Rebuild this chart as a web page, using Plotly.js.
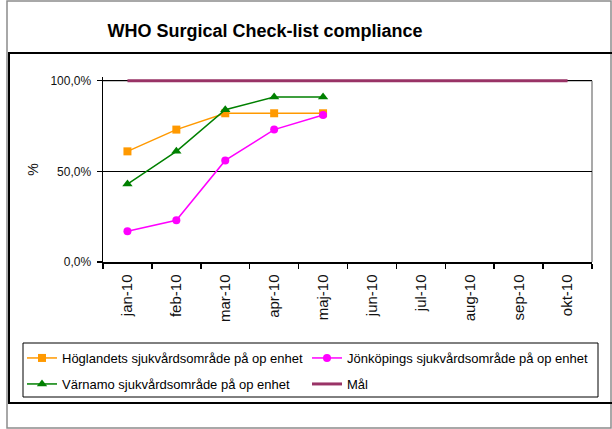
<!DOCTYPE html>
<html>
<head>
<meta charset="utf-8">
<script src="https://cdn.plot.ly/plotly-3.0.1.min.js"></script>
<style>html,body{margin:0;padding:0;background:#fff;}#chart{width:612px;height:429px;}</style>
</head>
<body>
<div id="chart"></div>
<script>
// ---- data ----
var months = ['jan-10','feb-10','mar-10','apr-10','maj-10','jun-10','jul-10','aug-10','sep-10','okt-10'];
var dataMonths = ['jan-10','feb-10','mar-10','apr-10','maj-10'];
var hoglandets = [0.61, 0.73, 0.82, 0.82, 0.82];
var jonkopings = [0.17, 0.23, 0.56, 0.73, 0.81];
var varnamo = [0.43, 0.61, 0.84, 0.91, 0.91];
var mal = [1, 1, 1, 1, 1, 1, 1, 1, 1, 1];
var yTicks = [0, 0.5, 1];
var seriesNames = ['Höglandets sjukvårdsområde på op enhet', 'Jönköpings sjukvårdsområde på op enhet', 'Värnamo sjukvårdsområde på op enhet', 'Mål'];

// ---- layout geometry (pixels) ----
var W = 612, H = 429;
var L = 103, R = 592, T = 77, B = 262;
function px(x){ return (x - L) / (R - L); }
function py(y){ return (B - y) / (B - T); }
var font = 'Arial, "Liberation Sans", sans-serif';

var traces = [
  {x: dataMonths, y: hoglandets, name: seriesNames[0], mode: 'lines+markers',
   line: {color: '#FF9900', width: 1.5}, marker: {symbol: 'square', size: 8, color: '#FF9900'}, legend: 'legend'},
  {x: dataMonths, y: jonkopings, name: seriesNames[1], mode: 'lines+markers',
   line: {color: '#FF00FF', width: 1.5}, marker: {symbol: 'circle', size: 8, color: '#FF00FF'}, legend: 'legend2'},
  {x: dataMonths, y: varnamo, name: seriesNames[2], mode: 'lines+markers',
   line: {color: '#008000', width: 1.5}, marker: {symbol: 'triangle-up', size: 9, color: '#008000'}, legend: 'legend3'},
  {x: months, y: mal, name: seriesNames[3], mode: 'lines',
   line: {color: '#993366', width: 3}, legend: 'legend4'}
];

var shapes = [
  {type: 'rect', xref: 'paper', yref: 'paper', x0: px(7), x1: px(611), y0: py(1), y1: py(428),
   line: {color: '#8c8c8c', width: 1.5}, layer: 'below'},
  {type: 'rect', xref: 'paper', yref: 'paper', x0: px(9), x1: px(614), y0: py(53), y1: py(403),
   line: {color: '#000', width: 2}, layer: 'below'},
  {type: 'rect', xref: 'paper', yref: 'paper', x0: px(23), x1: px(598), y0: py(343), y1: py(397),
   line: {color: '#000', width: 1}, layer: 'below'},
  {type: 'line', xref: 'paper', yref: 'y', x0: 0, x1: 1, y0: 1, y1: 1,
   line: {color: '#8c8c8c', width: 1.5}, layer: 'between'},
  {type: 'line', xref: 'paper', yref: 'y', x0: 1, x1: 1, y0: 0, y1: 1,
   line: {color: '#8c8c8c', width: 1.5}, layer: 'between'}
];

function legendAt(xp, yp){
  return {orientation: 'h', x: px(xp), y: py(yp), xanchor: 'left', yanchor: 'top',
          font: {size: 13, family: font, color: '#000'}, bgcolor: 'rgba(0,0,0,0)', borderwidth: 0, itemwidth: 30};
}

var layout = {
  width: W, height: H,
  margin: {l: L, r: W - R, t: T, b: H - B, pad: 0},
  paper_bgcolor: '#fff', plot_bgcolor: '#fff',
  separators: ',.',
  font: {family: font, color: '#000', size: 12},
  title: {text: '<b>WHO Surgical Check-list compliance</b>', font: {family: font, size: 18, color: '#000'},
          xref: 'container', yref: 'container', x: 265 / W, y: 1 - 31 / H, xanchor: 'center', yanchor: 'middle'},
  xaxis: {type: 'category', categoryorder: 'array', categoryarray: months, range: [-0.5, 9.5],
          showline: true, linecolor: '#000', linewidth: 1.5, showgrid: false, zeroline: false,
          ticks: 'outside', tickson: 'boundaries', ticklen: 5, tickcolor: '#000', tickwidth: 1.5,
          tickangle: -90, tickfont: {size: 15, family: font, color: '#111'}, ticklabelstandoff: 5, fixedrange: true},
  yaxis: {range: [0, 1.02], tickvals: yTicks, tickformat: '.1%',
          showline: true, linecolor: '#000', linewidth: 1.5, showgrid: true, gridcolor: '#000', gridwidth: 1,
          zeroline: false, ticks: 'outside', ticklen: 5, tickcolor: '#000', tickwidth: 1.5,
          tickfont: {size: 12, family: font, color: '#111'}, ticklabelstandoff: 3,
          title: {text: '%', font: {size: 14, family: font, color: '#111'}, standoff: 8}, fixedrange: true},
  showlegend: true,
  legend: legendAt(22, 343),
  legend2: legendAt(307, 343),
  legend3: legendAt(22, 369),
  legend4: legendAt(307, 369),
  shapes: shapes
};

Plotly.newPlot('chart', traces, layout, {displayModeBar: false, staticPlot: true});
</script>
</body>
</html>
